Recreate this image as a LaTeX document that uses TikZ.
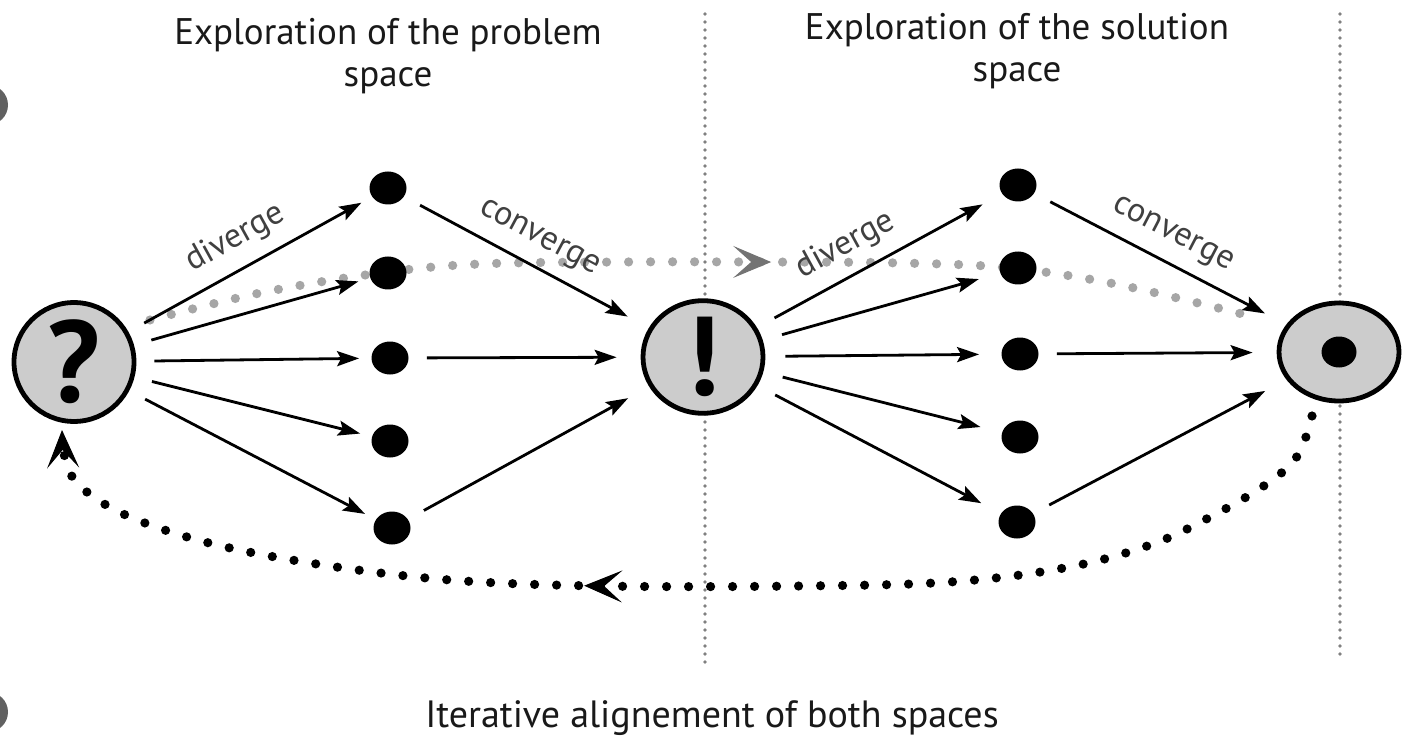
\documentclass[tikz,border=0pt]{standalone}
\usepackage{fontspec}
\setmainfont{PT Sans}
\usetikzlibrary{shapes.geometric,arrows.meta,decorations.markings}
\begin{document}
\begin{tikzpicture}[x=0.5pt,y=-0.5pt,
  bigc/.style={ellipse, draw=black, line width=2.4pt, fill=black!20, minimum width=60pt, minimum height=49pt, inner sep=0pt},
  blob/.style={ellipse, fill=black, minimum width=18.5pt, minimum height=16.5pt, inner sep=0pt},
  arrbase/.style={line width=1.4pt, -{Stealth[length=11pt,width=7.5pt,inset=2pt]}},
  divL/.style={arrbase, shorten <=9pt, shorten >=6pt},
  divR/.style={arrbase, shorten <=10pt, shorten >=11pt},
  conv/.style={arrbase, shorten <=9pt, shorten >=12pt},
  lbl/.style={font=\fontsize{17}{20}\selectfont, text=black!75, sloped, above=3pt, midway},
  title/.style={font=\fontsize{18.5}{21}\selectfont, text=black!90, align=center},
  vdots/.style={draw=black!50, line width=1.8pt, line cap=round, dash pattern=on 0pt off 4pt},
  bigdots/.style={line width=4.6pt, line cap=round, dash pattern=on 0pt off 11pt},
  midarrow/.style 2 args={decoration={markings, mark=at position #1 with {\arrow[line width=0.5pt,#2]{Stealth[length=19pt,width=16pt,inset=9pt]}}}, postaction={decorate}}
]
\useasboundingbox (0,0) rectangle (1411,737);
\fill[white!97!red!3] (0,0) rectangle (1411,737);
% binder holes
\fill[black!62] (-12,105) circle [radius=10pt];
\fill[black!62] (-12,712) circle [radius=10pt];

% vertical separators
\coordinate (v1t) at (705,14); \coordinate (v1b) at (705,665);
\coordinate (v2t) at (1340,14); \coordinate (v2b) at (1340,660);
\draw[vdots] (v1t) -- (v1b);
\draw[vdots] (v2t) -- (v2b);

% titles
\node[title] (t1) at (388,56) {Exploration of the problem\\space};
\node[title] (t2) at (1017,51) {Exploration of the solution\\space};
\node[font=\fontsize{19}{22}\selectfont, text=black!90] (t3) at (712,718) {Iterative alignement of both spaces};

% gray dotted loop (behind)
\draw[bigdots, draw=black!35, midarrow={0.56}{black!55}] plot[smooth, tension=0.6] coordinates {(150,320) (260,293) (380,273) (480,264) (620,262) (760,262) (900,263) (1010,268) (1120,285) (1258,318)};

% black dotted return loop
\coordinate (bs) at (1312,416);
\coordinate (be) at (62,425);
\draw[bigdots, draw=black, midarrow={0.575}{black}, -{Stealth[length=19pt,width=16pt,inset=9pt,line width=0.5pt]}]
  plot[smooth, tension=0.6] coordinates {(1312,416) (1298,455) (1268,483) (1214,515) (1150,545) (1064,568) (950,582) (800,586) (600,586) (450,580) (323,565) (213,544) (130,517) (82,488) (66,462) (62,430)};

% big circles
\node[bigc] (q) at (74,362) {\fontsize{58}{58}\selectfont\bfseries ?};
\node[bigc] (ex) at (703,357) {\fontsize{56}{56}\selectfont\bfseries !};
\node[bigc] (sol) at (1339,352) {};
\node[ellipse, fill=black, minimum width=17.5pt, minimum height=15.5pt, inner sep=0pt] (soldot) at (sol.center) {};

% dots
\node[blob] (l1) at (388,188) {};
\node[blob] (l2) at (388,273) {};
\node[blob] (l3) at (390,358) {};
\node[blob] (l4) at (390,441) {};
\node[blob] (l5) at (392,528) {};
\node[blob] (r1) at (1018,185) {};
\node[blob] (r2) at (1018,268) {};
\node[blob] (r3) at (1020,354) {};
\node[blob] (r4) at (1020,437) {};
\node[blob] (r5) at (1017,522) {};

% left diverge
\draw[divL] (q) -- (l1) node[lbl] {diverge};
\draw[divL] (q) -- (l2);
\draw[divL] (q) -- (l3);
\draw[divL] (q) -- (l4);
\draw[divL] (q) -- (l5);
% left converge
\draw[conv] (l1) -- (ex) node[lbl] {converge};
\draw[conv] (l3) -- (ex);
\draw[conv] (l5) -- (ex);
% right diverge
\draw[divR] (ex) -- (r1) node[lbl, pos=0.42] {diverge};
\draw[divR] (ex) -- (r2);
\draw[divR] (ex) -- (r3);
\draw[divR] (ex) -- (r4);
\draw[divR] (ex) -- (r5);
% right converge
\draw[conv] (r1) -- (sol) node[lbl] {converge};
\draw[conv] (r3) -- (sol);
\draw[conv] (r5) -- (sol);
\end{tikzpicture}
\end{document}
